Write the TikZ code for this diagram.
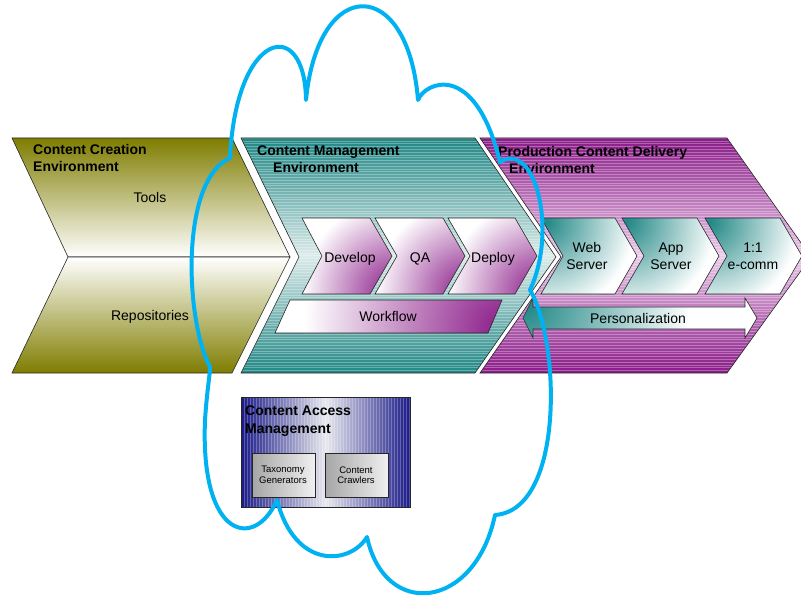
\documentclass[tikz,border=0pt]{standalone}
\usepackage{fontspec}
\setmainfont{Liberation Sans}
\definecolor{olv}{HTML}{7F7D00}
\definecolor{tealc}{HTML}{1F8785}
\definecolor{tealL}{HTML}{DCEBEA}
\definecolor{purp}{HTML}{8A1A88}
\definecolor{purpL}{HTML}{EBCDEA}
\definecolor{navy}{HTML}{1A1A88}
\definecolor{navyL}{HTML}{E8E8EE}
\definecolor{cloudc}{HTML}{00B2F2}
\begin{document}
\begin{tikzpicture}[x=1pt,y=-1pt,
  edge/.style={draw=black!85, line width=0.6pt},
  hstripes/.style={path picture={\foreach \k in {0,...,90}{\draw[white,opacity=0.3,line width=0.5pt] ([yshift=-\k*2.8pt]path picture bounding box.north west) -- ([yshift=-\k*2.8pt]path picture bounding box.north east);}}},
  vstripes/.style={path picture={\foreach \k in {0,...,60}{\draw[white,opacity=0.25,line width=0.6pt] ([xshift=\k*3pt]path picture bounding box.north west) -- ([xshift=\k*3pt]path picture bounding box.south west);}}},
  radfill/.style n args={4}{edge, path picture={\fill[white] (path picture bounding box.south west) rectangle (path picture bounding box.north east);
     \shade[inner color=#1, outer color=white] ([shift={(#3)}]path picture bounding box.#2) circle (#4);}},
  title/.style={font=\fontsize{14}{17}\selectfont\bfseries, align=left, inner sep=0pt, anchor=north west},
  lbl/.style={font=\fontsize{14}{17}\selectfont, align=center, inner sep=0pt},
  small/.style={font=\fontsize{9.5}{10.5}\selectfont, align=center, inner sep=0pt},
  cloudline/.style={draw=cloudc, line width=4pt, line join=round}
]
\useasboundingbox (0,0) rectangle (801,599);
\clip (0,0) rectangle (801,599);

% Content Creation Environment (olive)
\path[edge, top color=olv, bottom color=white] (12,138) -- (232,138) -- (290,257) -- (68,257) -- cycle;
\path[edge, top color=white, bottom color=olv] (68,257) -- (290,257) -- (232,373) -- (12,373) -- cycle;

% Content Management Environment (teal)
\path[edge, top color=tealc, bottom color=tealc, middle color=tealL, hstripes]
  (241,138) -- (475,138) -- (556,257) -- (475,373) -- (241,373) -- (299,257) -- cycle;

% Production Content Delivery Environment (purple)
\path[edge, top color=purp, bottom color=purp, middle color=purpL, hstripes]
  (480,138) -- (727,138) -- (811,257) -- (727,373) -- (480,373) -- (561,257) -- cycle;

% inner purple chevrons
\path[radfill={purp}{south east}{2pt,2pt}{92pt}] (302,218) -- (370,218) -- (392,256) -- (370,294) -- (302,294) -- (322,256) -- cycle;
\path[radfill={purp}{south east}{2pt,2pt}{92pt}] (375,218) -- (443,218) -- (465,256) -- (443,294) -- (375,294) -- (397,256) -- cycle;
\path[radfill={purp}{south east}{2pt,2pt}{92pt}] (448,218) -- (515,218) -- (537,256) -- (515,294) -- (448,294) -- (470,256) -- cycle;
\path[radfill={purp}{south east}{2pt,4pt}{200pt}] (290,300) -- (502,300) -- (488,333) -- (275,333) -- cycle;

% inner teal chevrons
\path[radfill={tealc}{north west}{4pt,-4pt}{90pt}] (541,218) -- (615,218) -- (637,256) -- (615,294) -- (541,294) -- (563,256) -- cycle;
\path[radfill={tealc}{north west}{4pt,-4pt}{90pt}] (622,218) -- (697,218) -- (719,256) -- (697,294) -- (622,294) -- (644,256) -- cycle;
\path[radfill={tealc}{north west}{4pt,-4pt}{90pt}] (705,218) -- (780,218) -- (802,256) -- (780,294) -- (705,294) -- (727,256) -- cycle;

% Personalization double arrow
\path[radfill={tealc}{north west}{2pt,-6pt}{165pt}]
  (523,318) -- (533,298) -- (533,307) -- (745,307) -- (745,298) -- (757,318)
  -- (745,338) -- (745,329) -- (533,329) -- (533,338) -- cycle;

% Content Access Management
\path[edge, left color=navy, right color=navy, middle color=navyL, vstripes] (241,397) rectangle (410,507);
\path[edge, left color=black!35, right color=black!6] (252,453) rectangle (315,497);
\path[edge, left color=black!35, right color=black!6] (325,453) rectangle (388,497);

% texts
\node[title] (tcce) at (33,144) {Content Creation\\Environment};
\node[lbl, anchor=base] (ttools) at (150,202) {Tools};
\node[lbl, anchor=base] (trepo) at (150,320) {Repositories};
\node[title] (tcme) at (257,146) {Content Management\\\hspace*{16pt}Environment};
\node[title] (tpcd) at (498,146) {Production Content Delivery\\\hspace*{11pt}Environment};
\node[lbl, anchor=base] (tdev) at (350,262) {Develop};
\node[lbl, anchor=base] (tqa) at (420,262) {QA};
\node[lbl, anchor=base] (tdep) at (493,262) {Deploy};
\node[lbl, anchor=base] (twf) at (388,321) {Workflow};
\node[lbl] (tweb) at (587,256) {Web\\Server};
\node[lbl] (tapp) at (671,256) {App\\Server};
\node[lbl] (tecom) at (753,256) {1:1\\e-comm};
\node[lbl, anchor=base] (tpers) at (638,323) {Personalization};
\node[title, font=\fontsize{14}{18}\selectfont\bfseries] (tcam) at (245,406) {Content Access\\Management};
\node[small] (ttax) at (283,475) {Taxonomy\\Generators};
\node[small] (tcrawl) at (356,475) {Content\\Crawlers};

% cloud
\draw[cloudline] (230,158) .. controls (236,30) and (305,15) .. (306,100)
  .. controls (318,-25) and (408,-25) .. (418,100)
  .. controls (425,82) and (475,60) .. (500,162)
  .. controls (535,140) and (558,230) .. (530,290)
  .. controls (560,340) and (565,510) .. (495,515)
  .. controls (475,610) and (385,620) .. (367,537)
  .. controls (350,565) and (295,570) .. (277,500)
  .. controls (255,550) and (200,540) .. (205,420)
  .. controls (207,390) and (210,375) .. (210,367)
  .. controls (185,320) and (180,180) .. (230,158) -- cycle;
\end{tikzpicture}
\end{document}
